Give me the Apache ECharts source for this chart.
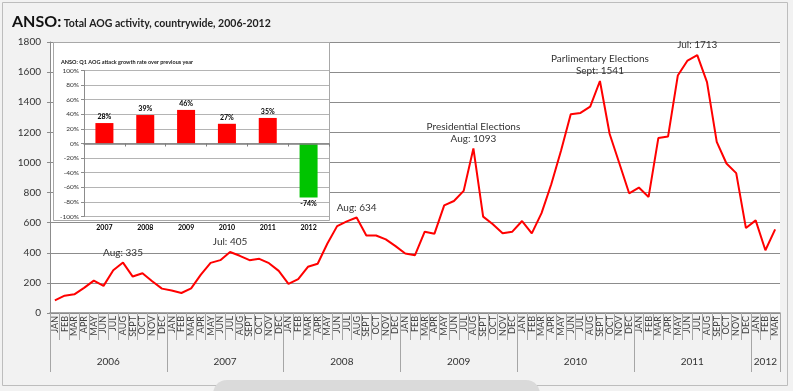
<!DOCTYPE html>
<html><head><meta charset="utf-8">
<script src="https://cdn.jsdelivr.net/npm/echarts@6/dist/echarts.min.js"></script>
<style>html,body{margin:0;padding:0;background:#f2f2f2}#c{width:793px;height:391px}</style>
</head><body><div id="c"></div>
<script>
// ---- data ----
const monthNames = ['JAN','FEB','MAR','APR','MAY','JUN','JUL','AUG','SEPT','OCT','NOV','DEC'];
const years = ['2006','2007','2008','2009','2010','2011','2012'];
const monthsPerYear = [12,12,12,12,12,12,3];
const aogActivity = [
  84, 115, 124, 167, 215, 180, 284, 335, 242, 264, 211, 162,
  149, 133, 164, 255, 333, 351, 405, 380, 351, 360, 331, 280,
  194, 225, 307, 327, 462, 577, 609, 634, 515, 515, 489, 444,
  395, 384, 540, 527, 715, 744, 811, 1093, 640, 589, 529, 540,
  611, 529, 663, 855, 1078, 1320, 1329, 1371, 1541, 1189, 993, 795,
  833, 771, 1162, 1173, 1577, 1677, 1713, 1533, 1137, 993, 929, 564,
  615, 417, 555
];
const annotationIndex = [7, 18, 31, 43, 56, 66];
const annotationText = ['Aug: 335', 'Jul: 405', 'Aug: 634', 'Presidential Elections\nAug: 1093', 'Parlimentary Elections\nSept: 1541', 'Jul: 1713'];
const yMin = 0, yMax = 1800, yStep = 200;

const insetYears = ['2007','2008','2009','2010','2011','2012'];
const insetGrowth = [28, 39, 46, 27, 35, -74];

// ---- derived ----
const monthCats = [];
const yearCats = [];
const yearStart = new Set();
const yearLabelAt = {};
let k = 0;
years.forEach((y, yi) => {
  yearStart.add(k);
  const n = monthsPerYear[yi];
  const mid = n % 2 === 0 ? k + n / 2 : k + (n - 1) / 2;
  yearLabelAt[mid] = (n % 2 === 0 ? '{a|' : '{b|') + y + '}';
  for (let m = 0; m < n; m++) { monthCats.push(monthNames[m]); yearCats.push(y + '_' + k); k++; }
});
yearStart.add(k);

const FONT = 'Lato, "Open Sans", sans-serif';
const lineData = aogActivity.map((v, i) => {
  const a = annotationIndex.indexOf(i);
  if (a < 0) return v;
  return { value: v, label: { show: true, position: 'top', distance: 4, formatter: annotationText[a],
    fontSize: 10, lineHeight: 12, color: '#333', fontFamily: FONT } };
});
const barData = insetGrowth.map(v => ({
  value: v,
  itemStyle: { color: v >= 0 ? '#ff0000' : '#00c400' },
  label: { position: v >= 0 ? 'top' : 'bottom' }
}));

const chart = echarts.init(document.getElementById('c'), null, { renderer: 'canvas' });
chart.setOption({
  backgroundColor: '#f2f2f2',
  animation: false,
  title: [
    { left: 7, top: 9, text: '{b|ANSO:}{n| Total AOG activity, countrywide, 2006-2012}',
      textStyle: { rich: {
        b: { fontSize: 16, fontWeight: 'bold', color: '#111', fontFamily: FONT },
        n: { fontSize: 10.5, color: '#222', fontFamily: FONT, padding: [3, 0, 0, 0] } } } },
    { left: 56, top: 54, text: '{b|ANSO:}{n| Q1 AOG attack growth rate over previous year}', z: 8,
      textStyle: { rich: {
        b: { fontSize: 5.5, fontWeight: 'bold', color: '#111', fontFamily: FONT },
        n: { fontSize: 5.5, color: '#222', fontFamily: FONT } } } }
  ],
  graphic: [
    { type: 'rect', z: -10, shape: { x: 2.5, y: 2.5, width: 785, height: 383 },
      style: { fill: 'none', stroke: '#bdbdbd', lineWidth: 1 } },
    { type: 'rect', z: -10, shape: { x: 213, y: 380, width: 327, height: 30, r: 14 },
      style: { fill: '#dadada' } },
    { type: 'rect', z: 1, shape: { x: 53.5, y: 42.5, width: 276, height: 178 },
      style: { fill: '#ffffff', stroke: '#a8a8a8', lineWidth: 1 } }
  ],
  grid: [
    { left: 50, right: 13, top: 42, bottom: 78, show: true, backgroundColor: '#ffffff', borderWidth: 0 },
    { left: 84, right: 464, top: 70.5, bottom: 174.5 }
  ],
  xAxis: [
    { type: 'category', gridIndex: 0, data: monthCats, boundaryGap: true, position: 'bottom',
      axisLine: { onZero: false, lineStyle: { color: '#8c8c8c', width: 1.5 } },
      axisTick: { show: true, interval: 0, length: 27, lineStyle: { color: '#a6a6a6' } },
      axisLabel: { interval: 0, rotate: 90, fontSize: 9, color: '#404040', margin: 3, fontFamily: FONT },
      splitLine: { show: false } },
    { type: 'category', gridIndex: 0, data: yearCats, boundaryGap: true, position: 'bottom',
      axisLine: { show: false, onZero: false },
      axisTick: { show: true, length: 59, interval: (i) => yearStart.has(i), lineStyle: { color: '#a6a6a6' } },
      axisLabel: { interval: (i) => yearLabelAt[i] !== undefined, formatter: (v, i) => yearLabelAt[i] || '',
        margin: 44, color: '#333',
        rich: { a: { fontSize: 10, color: '#333', fontFamily: FONT, padding: [0, 10, 0, 0] },
                b: { fontSize: 10, color: '#333', fontFamily: FONT } } },
      splitLine: { show: false } },
    { type: 'category', gridIndex: 1, data: insetYears, z: 6,
      axisLine: { onZero: true, lineStyle: { color: '#7f7f7f', width: 1.5 } },
      axisTick: { show: true, length: 3, lineStyle: { color: '#7f7f7f' } },
      axisLabel: { fontSize: 7, fontWeight: 'bold', color: '#000', margin: 8, fontFamily: FONT } }
  ],
  yAxis: [
    { type: 'value', gridIndex: 0, min: yMin, max: yMax, interval: yStep,
      axisLine: { show: true, lineStyle: { color: '#8c8c8c' } },
      axisTick: { show: true, length: 3, lineStyle: { color: '#8c8c8c' } },
      axisLabel: { fontSize: 10, color: '#333', margin: 9, fontFamily: FONT, formatter: (v) => String(v) },
      splitLine: { show: true, lineStyle: { color: '#8c8c8c', width: 1 } } },
    { type: 'value', gridIndex: 1, min: -100, max: 100, interval: 20, z: 3,
      axisLine: { show: true, lineStyle: { color: '#8c8c8c' } },
      axisTick: { show: true, length: 3, lineStyle: { color: '#8c8c8c' } },
      axisLabel: { fontSize: 6.5, color: '#333', margin: 5, formatter: '{value}%', fontFamily: FONT },
      splitLine: { show: true, lineStyle: { color: '#b4b4b4', width: 1 } } }
  ],
  series: [
    { type: 'line', xAxisIndex: 0, yAxisIndex: 0, data: lineData, showSymbol: true, symbol: 'circle', symbolSize: 0,
      lineStyle: { color: '#ff0000', width: 2 }, itemStyle: { color: '#ff0000' }, z: 2,
      label: { show: false } },
    { type: 'bar', xAxisIndex: 2, yAxisIndex: 1, data: barData, barWidth: 18, z: 4,
      label: { show: true, formatter: '{c}%', fontSize: 7, fontWeight: 'bold', color: '#000', distance: 3, fontFamily: FONT } }
  ]
});
</script></body></html>
